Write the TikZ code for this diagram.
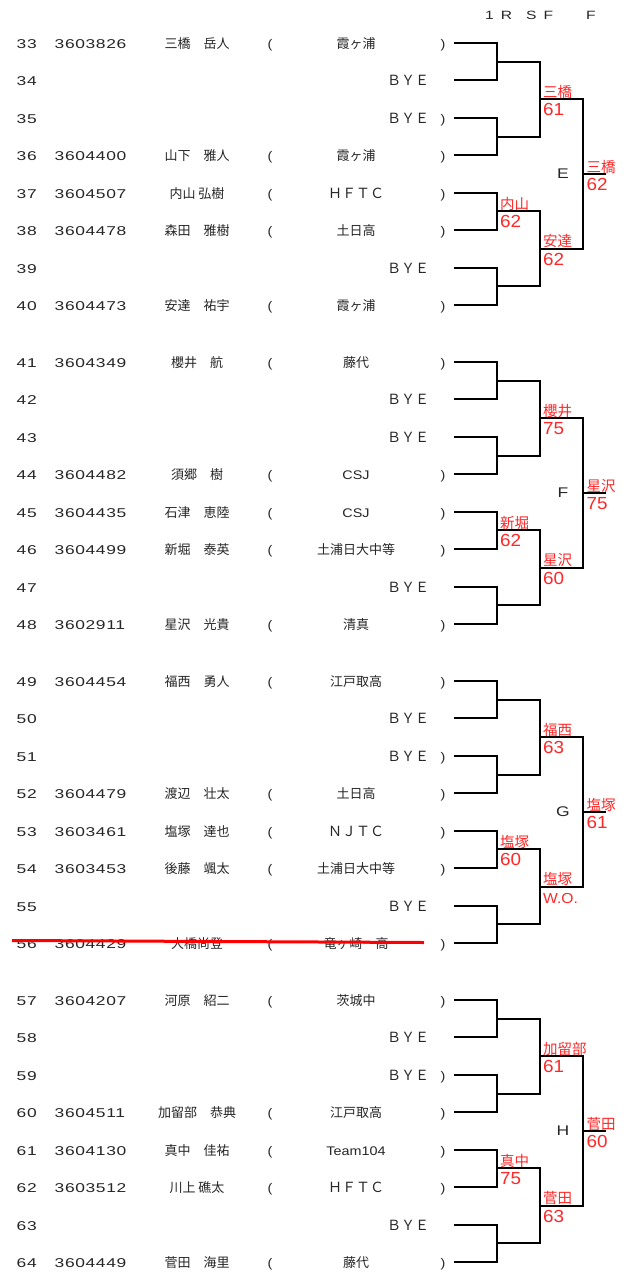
\documentclass[tikz,border=0pt]{standalone}
\usepackage{fontspec}
\setmainfont{Noto Sans CJK JP}
\newfontfamily\latf{Liberation Sans}[FakeStretch=1.36,LetterSpace=5]
\newfontfamily\clubf{Liberation Sans}[FakeStretch=1.15]
\newfontfamily\redf{Liberation Sans}[FakeStretch=1.08]
\newfontfamily\hdrf{Liberation Sans}[FakeStretch=1.3,LetterSpace=58]
\newfontfamily\letf{Liberation Sans}[FakeStretch=1.25]
\definecolor{txt}{gray}{0.15}
\definecolor{redl}{RGB}{255,40,40}
\definecolor{strk}{RGB}{255,0,0}
\tikzset{
  t/.style={inner sep=0pt, text=txt},
  num/.style={t, anchor=base west, font=\latf\fontsize{12.8}{14}\selectfont},
  nm/.style={t, anchor=base, font=\fontsize{13}{15}\selectfont},
  par/.style={t, anchor=base, font=\clubf\fontsize{12.5}{14}\selectfont},
  club/.style={t, anchor=base, font=\fontsize{13}{15}\selectfont},
  fw/.style={t, anchor=base, font=\fontsize{14}{16}\selectfont},
  clat/.style={t, anchor=base, font=\clubf\fontsize{12.5}{14}\selectfont},
  hdr/.style={t, anchor=base west, font=\hdrf\fontsize{12}{14}\selectfont},
  letr/.style={t, font=\letf\fontsize{14}{16}\selectfont},
  rname/.style={inner sep=0pt, anchor=base west, text=redl, font=\fontsize{14.5}{16}\selectfont},
  rscore/.style={inner sep=0pt, anchor=base west, text=redl, font=\redf\fontsize{17.5}{19}\selectfont},
  brk/.style={line width=2pt, black},
  strike/.style={line width=3pt, strk}
}
\newcommand\rowy[1]{\pgfmathsetmacro\yy{43+319*int((#1-33)/8)+37.43*mod(#1-33,8)}\pgfmathsetmacro\ybase{\yy+5.5}}
\newcommand\prow[5]{%
  \rowy{#1}
  \node[num] (n#1) at (16.5,\ybase) {#1};
  \node[num] (id#1) at (54.5,\ybase) {#2};
  \node[nm] (nm#1) at (197,\ybase) {#3};
  \node[par] (lp#1) at (270,\ybase) {(};
  \node[#5] (cl#1) at (356,\ybase) {#4};
  \node[par] (rp#1) at (443,\ybase) {)};
}
\newcommand\byerow[2]{%
  \rowy{#1}
  \node[num] (n#1) at (16.5,\ybase) {#1};
  \node[fw] (bye#1) at (408,\ybase) {ＢＹＥ};
  \ifnum#2=1 \node[par] (rp#1) at (443,\ybase) {)};\fi
}
\newcommand\lab[5]{%
  \node[rname] (#4n) at ([xshift=#5pt,yshift=2pt]#1) {#2};
  \node[rscore] (#4s) at ([xshift=#5pt,yshift=-16.5pt]#1) {#3};
}
\begin{document}
\begin{tikzpicture}[x=1pt,y=-1pt]
\fill[white] (0,0) rectangle (627,1274);
\useasboundingbox (0,0) rectangle (627,1274);

% header
\node[hdr] (h1) at (485,19.5) {1R};
\node[hdr] (h2) at (526,19.5) {SF};
\node[hdr] (h3) at (586,19.5) {F};

% rows
\prow{33}{3603826}{三橋　岳人}{霞ヶ浦}{club}
\byerow{34}{0}
\byerow{35}{1}
\prow{36}{3604400}{山下　雅人}{霞ヶ浦}{club}
\prow{37}{3604507}{内山 弘樹}{ＨＦＴＣ}{fw}
\prow{38}{3604478}{森田　雅樹}{土日高}{club}
\byerow{39}{0}
\prow{40}{3604473}{安達　祐宇}{霞ヶ浦}{club}

\prow{41}{3604349}{櫻井　航}{藤代}{club}
\byerow{42}{0}
\byerow{43}{0}
\prow{44}{3604482}{須郷　樹}{CSJ}{clat}
\prow{45}{3604435}{石津　恵陸}{CSJ}{clat}
\prow{46}{3604499}{新堀　泰英}{土浦日大中等}{club}
\byerow{47}{0}
\prow{48}{3602911}{星沢　光貴}{清真}{club}

\prow{49}{3604454}{福西　勇人}{江戸取高}{club}
\byerow{50}{0}
\byerow{51}{1}
\prow{52}{3604479}{渡辺　壮太}{土日高}{club}
\prow{53}{3603461}{塩塚　達也}{ＮＪＴＣ}{fw}
\prow{54}{3603453}{後藤　颯太}{土浦日大中等}{club}
\byerow{55}{0}
\prow{56}{3604429}{大橋尚登}{竜ヶ崎一高}{club}

\prow{57}{3604207}{河原　紹二}{茨城中}{club}
\byerow{58}{0}
\byerow{59}{1}
\prow{60}{3604511}{加留部　恭典}{江戸取高}{club}
\prow{61}{3604130}{真中　佳祐}{Team104}{clat}
\prow{62}{3603512}{川上 礁太}{ＨＦＴＣ}{fw}
\byerow{63}{0}
\prow{64}{3604449}{菅田　海里}{藤代}{club}

% strike-through of row 56
\coordinate (st1) at (12,940.5);
\coordinate (st2) at (424,942.5);
\draw[strike] (st1) -- (st2);

% brackets
\foreach \g in {0,1,2,3}{
  \foreach \p in {0,1,2,3}{
    \pgfmathsetmacro\yt{43+319*\g+74.86*\p}
    \pgfmathsetmacro\ybt{\yt+37.43}
    \pgfmathsetmacro\ym{\yt+18.715}
    \coordinate (a\g\p) at (454,\yt);
    \coordinate (b\g\p) at (454,\ybt);
    \coordinate (j\g\p) at (497,\ym);
    \draw[brk] (a\g\p) -| (j\g\p) |- (b\g\p);
  }
  \foreach \q in {0,1}{
    \pgfmathsetmacro\yk{43+319*\g+56.145+149.72*\q}
    \coordinate (k\g\q) at (540,\yk);
  }
  \pgfmathsetmacro\ys{43+319*\g+131.005}
  \coordinate (s\g) at (583,\ys);
  \coordinate (f\g) at (606,\ys);
  \draw[brk] (j\g0) -| (k\g0) |- (j\g1);
  \draw[brk] (j\g2) -| (k\g1) |- (j\g3);
  \draw[brk] (k\g0) -| (s\g) |- (k\g1);
  \draw[brk] (s\g) -- (f\g);
}

% group letters
\node[letr] (gE) at ([xshift=-20pt]s0) {E};
\node[letr] (gF) at ([xshift=-20pt]s1) {F};
\node[letr] (gG) at ([xshift=-20pt]s2) {G};
\node[letr] (gH) at ([xshift=-20pt]s3) {H};

% results
\lab{j02}{内山}{62}{r1a}{3}
\lab{k00}{三橋}{61}{r1b}{3}
\lab{k01}{安達}{62}{r1c}{3}
\lab{s0}{三橋}{62}{r1d}{3.5}

\lab{j12}{新堀}{62}{r2a}{3}
\lab{k10}{櫻井}{75}{r2b}{3}
\lab{k11}{星沢}{60}{r2c}{3}
\lab{s1}{星沢}{75}{r2d}{3.5}

\lab{j22}{塩塚}{60}{r3a}{3}
\lab{k20}{福西}{63}{r3b}{3}
\lab{k21}{塩塚}{{\fontsize{14.5}{16}\selectfont W.O.}}{r3c}{3}
\lab{s2}{塩塚}{61}{r3d}{3.5}

\lab{j32}{真中}{75}{r4a}{3}
\lab{k30}{加留部}{61}{r4b}{3}
\lab{k31}{菅田}{63}{r4c}{3}
\lab{s3}{菅田}{60}{r4d}{3.5}
\end{tikzpicture}
\end{document}
